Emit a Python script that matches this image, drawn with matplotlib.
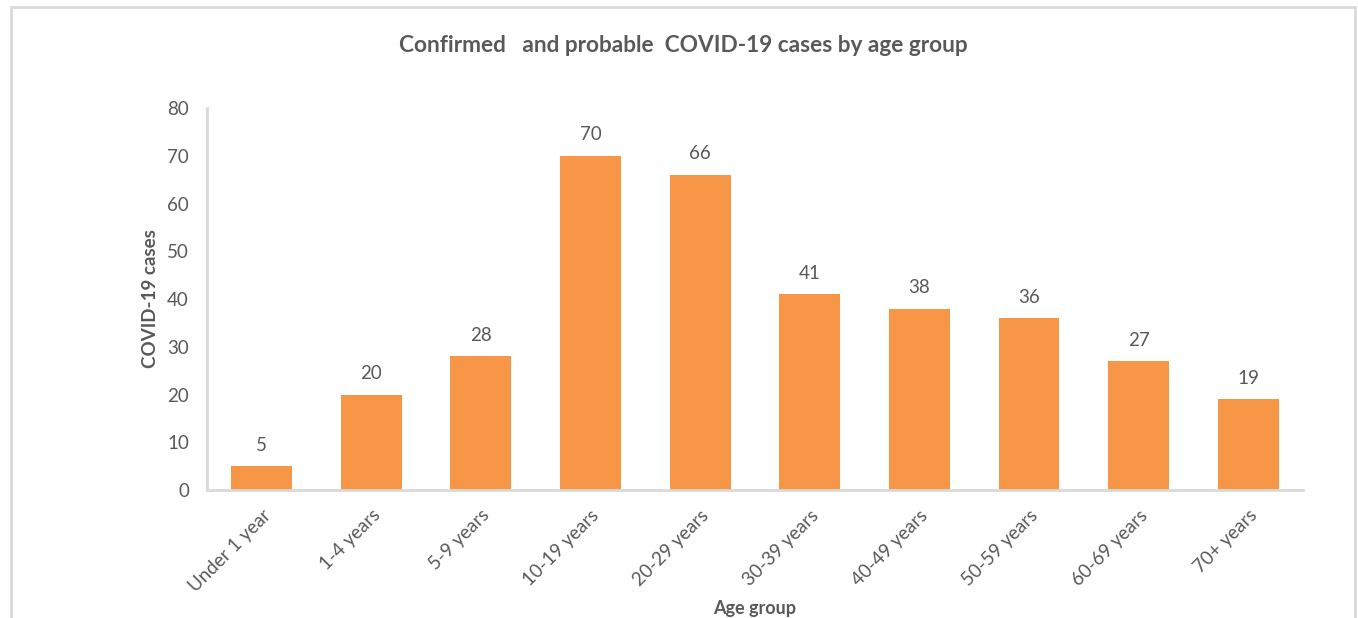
import matplotlib.pyplot as plt
from matplotlib.patches import Rectangle

age_groups = ['Under 1 year', '1-4 years', '5-9 years', '10-19 years', '20-29 years',
              '30-39 years', '40-49 years', '50-59 years', '60-69 years', '70+ years']
cases = [5, 20, 28, 70, 66, 41, 38, 36, 27, 19]

plt.rcParams['font.family'] = ['Lato', 'DejaVu Sans']
gray = '#595959'
line_col = '#D9D9D9'

fig = plt.figure(figsize=(13.58, 6.18), dpi=100)
ax = fig.add_axes([0.1524, 0.2071, 0.8071, 0.6181])

x = range(len(age_groups))
bars = ax.bar(x, cases, width=0.556, color='#F79646')
for b, v in zip(bars, cases):
    ax.annotate(str(v), (b.get_x() + b.get_width() / 2, v), xytext=(0, 9),
                textcoords='offset points', ha='center', va='bottom',
                fontsize=13.5, color=gray)

ax.set_xlim(-0.5, len(age_groups) - 0.5)
ax.set_ylim(0, 80)
ax.set_yticks(range(0, 81, 10))
ax.set_xticks(list(x))
ax.set_xticklabels(age_groups, rotation=45, ha='right', va='top', rotation_mode='anchor')
ax.tick_params(length=0, labelsize=13.5, labelcolor=gray)
ax.tick_params(axis='y', pad=13)
ax.tick_params(axis='x', pad=12)

for s in ['top', 'right']:
    ax.spines[s].set_visible(False)
for s in ['left', 'bottom']:
    ax.spines[s].set_color(line_col)
    ax.spines[s].set_linewidth(2)

ax.set_ylabel('COVID-19 cases', fontsize=13.5, fontweight='bold', color=gray, labelpad=6)
ax.set_xlabel('Age group', fontsize=13, fontweight='bold', color=gray, labelpad=4)

fig.text(0.503, 1 - 45 / 618, 'Confirmed   and probable  COVID-19 cases by age group',
         ha='center', va='center', fontsize=16.3, fontweight='bold', color=gray)

fig.patches.append(Rectangle((11 / 1358, -0.05), 1344 / 1358, 1.05 - 7 / 618,
                             transform=fig.transFigure, fill=False,
                             edgecolor=line_col, linewidth=2))

fig.savefig('out.png', dpi=100)
